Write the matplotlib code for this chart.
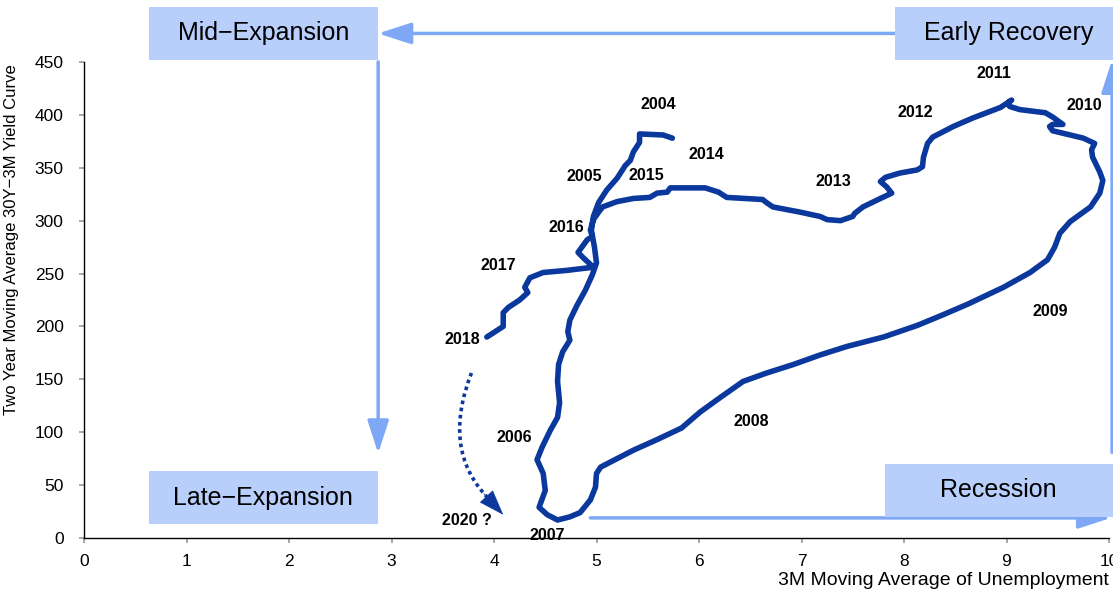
import matplotlib
matplotlib.use("Agg")
import matplotlib.pyplot as plt
from matplotlib.patches import Rectangle, FancyArrowPatch, PathPatch
from matplotlib.path import Path

plt.rcParams['font.family'] = ['Liberation Sans', 'DejaVu Sans']

# unemployment (3M avg, %) vs 30Y-3M curve (2Y avg, bp), 2004 -> 2018
unemp = [5.74, 5.65, 5.42, 5.42, 5.36, 5.33, 5.28, 5.20, 5.10, 5.02,
         4.97, 4.95, 4.98, 5.00, 4.96, 4.89, 4.81, 4.74, 4.72, 4.74,
         4.67, 4.63, 4.62, 4.64, 4.62, 4.55, 4.47, 4.42, 4.48, 4.50,
         4.44, 4.52, 4.62, 4.74, 4.84, 4.94, 4.99, 5.00, 5.04, 5.16,
         5.36, 5.59, 5.83, 6.01, 6.21, 6.43, 6.66, 6.92, 7.18, 7.44,
         7.80, 8.13, 8.38, 8.62, 8.97, 9.23, 9.40, 9.47, 9.52, 9.62,
         9.82, 9.91, 9.94, 9.91, 9.84, 9.83, 9.86, 9.75, 9.45, 9.42,
         9.45, 9.55, 9.45, 9.38, 9.13, 9.03, 9.02, 9.05, 8.94, 8.67,
         8.48, 8.28, 8.23, 8.19, 8.18, 8.13, 7.96, 7.82, 7.77, 7.83,
         7.88, 7.77, 7.60, 7.52, 7.50, 7.38, 7.25, 7.18, 6.99, 6.72,
         6.66, 6.62, 6.27, 6.19, 6.06, 5.72, 5.69, 5.59, 5.52, 5.36,
         5.20, 5.06, 5.02, 4.97, 4.94, 4.96, 4.91, 4.82, 4.87, 4.97,
         4.71, 4.48, 4.35, 4.30, 4.33, 4.25, 4.14, 4.09, 4.09, 3.93]
curve = [378, 381, 382, 374, 365, 357, 352, 340, 329, 317,
         304, 291, 275, 260, 249, 234, 220, 206, 195, 187,
         176, 164, 148, 128, 114, 102, 86, 74, 61, 45,
         29, 22, 17, 20, 24, 36, 48, 61, 67, 73,
         83, 93, 104, 119, 133, 148, 156, 164, 173, 181,
         190, 201, 211, 221, 237, 251, 263, 275, 288, 299,
         313, 326, 338, 346, 360, 367, 373, 378, 385, 389,
         391, 391, 398, 402, 405, 408, 412, 414, 407, 397,
         389, 379, 373, 360, 351, 348, 345, 341, 337, 332,
         326, 321, 313, 307, 304, 300, 301, 304, 308, 313,
         317, 320, 322, 327, 331, 331, 327, 326, 322, 321,
         318, 313, 308, 301, 291, 285, 282, 270, 265, 256,
         253, 251, 246, 237, 232, 225, 218, 213, 200, 190]

years = ['2004', '2005', '2015', '2014', '2016', '2017', '2018', '2006',
         '2007', '2020 ?', '2008', '2009', '2010', '2011', '2012', '2013']
year_x = [5.60, 4.88, 5.49, 6.07, 4.71, 4.04, 3.69, 4.20,
          4.52, 3.74, 6.51, 9.43, 9.76, 8.88, 8.11, 7.31]
year_y = [410, 342, 343, 363, 294, 258, 188, 95,
          2, 17, 110, 214, 409, 439, 402, 337]

# phase boxes: name, x0, x1, y0, y1, label x, label y
phases = ['Mid\u2212Expansion', 'Early Recovery', 'Late\u2212Expansion', 'Recession']
phase_x0 = [0.63, 7.91, 0.63, 7.81]
phase_x1 = [2.87, 10.1, 2.87, 10.1]
phase_y0 = [452, 452, 13, 20]
phase_y1 = [502, 502, 63, 70]
phase_tx = [1.75, 9.02, 1.75, 8.92]
phase_ty = [477, 477, 38, 45]

box_col = '#b8cefb'
arrow_col = '#7ea8f6'
line_col = '#0a389c'

fig = plt.figure(figsize=(11.13, 5.92), dpi=100)
ax = fig.add_axes([84 / 1113, 54 / 592, 1025 / 1113, 476 / 592])

ax.plot(unemp, curve, color=line_col, lw=4, solid_capstyle='round',
        solid_joinstyle='round', zorder=3)

for t, x, y in zip(years, year_x, year_y):
    ax.text(x, y, t, ha='center', va='center', fontsize=11.5,
            fontweight='bold', zorder=5)

for name, x0, x1, y0, y1, tx, ty in zip(phases, phase_x0, phase_x1, phase_y0,
                                        phase_y1, phase_tx, phase_ty):
    ax.add_patch(Rectangle((x0, y0), x1 - x0, y1 - y0, facecolor=box_col,
                           edgecolor='none', clip_on=False, zorder=2))
    ax.text(tx, ty, name, ha='center', va='center', fontsize=18,
            zorder=4, clip_on=False)

# cycle arrows between the phases
cycle = [((7.91, 477), (2.87, 477)),
         ((2.87, 450), (2.87, 80)),
         ((4.94, 19), (10.02, 19)),
         ((10.03, 81), (10.03, 452))]
for start, end in cycle:
    ax.add_patch(FancyArrowPatch(start, end,
                                 arrowstyle='-|>,head_length=20,head_width=6.5',
                                 mutation_scale=1, color=arrow_col, lw=2.5,
                                 shrinkA=0, shrinkB=0, clip_on=False, zorder=1))

# dotted guess for where the cycle heads next
guess = Path([(3.78, 156), (3.49, 84), (3.93, 39)],
             [Path.MOVETO, Path.CURVE3, Path.CURVE3])
ax.add_patch(PathPatch(guess, fill=False, edgecolor=line_col, lw=2.6,
                       linestyle=(0, (1, 1)), zorder=3))
ax.add_patch(FancyArrowPatch((3.90, 42), (4.09, 22),
                             arrowstyle='-|>,head_length=17,head_width=6',
                             mutation_scale=1, color=line_col, lw=0.5,
                             shrinkA=0, shrinkB=0, zorder=3))

ax.set_xlim(0, 10)
ax.set_ylim(0, 450)
ax.set_xticks(range(0, 11))
ax.set_yticks(range(0, 451, 50))
ax.spines['top'].set_visible(False)
ax.spines['right'].set_visible(False)
for s in ('left', 'bottom'):
    ax.spines[s].set_linewidth(1.0)
ax.tick_params(axis='both', direction='out', length=3.6, width=1.2,
               color='#9a9a9a', labelsize=12.5)
ax.tick_params(axis='y', pad=11)
ax.tick_params(axis='x', pad=8)

ax.set_ylabel('Two Year Moving Average 30Y\u22123M Yield Curve', fontsize=12)
ax.yaxis.set_label_coords(-0.063, 0.626)
ax.set_xlabel('3M Moving Average of Unemployment', loc='right', fontsize=14)
ax.xaxis.set_label_coords(1.0, -0.072)

fig.savefig('out.png', dpi=100)
